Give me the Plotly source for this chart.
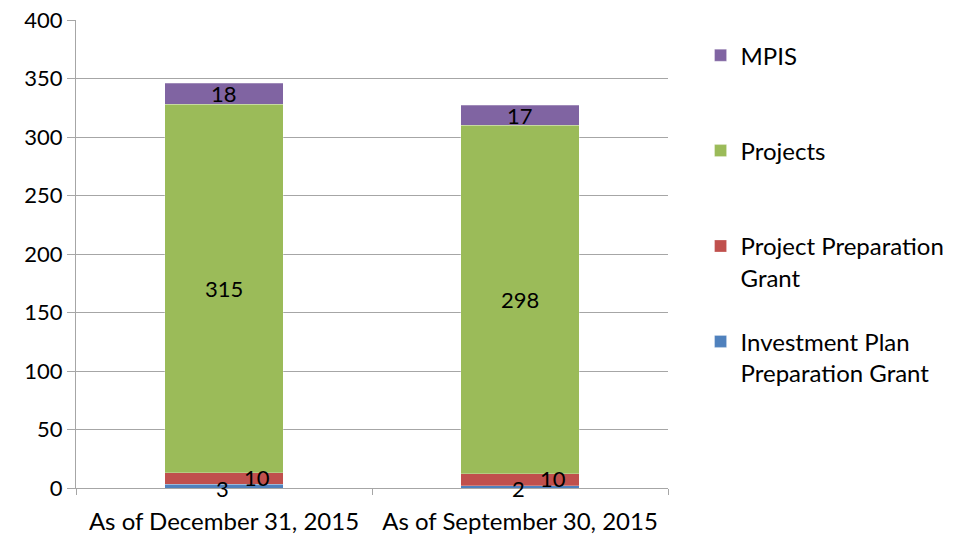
import plotly.graph_objects as go

categories = ["As of December 31, 2015", "As of September 30, 2015"]
ippg = [3, 2]
ppg = [10, 10]
projects = [315, 298]
mpis = [18, 17]

series = [
    ("Investment Plan<br>Preparation Grant", ippg, "#4F81BD"),
    ("Project Preparation<br>Grant", ppg, "#C0504D"),
    ("Projects<br>&nbsp;", projects, "#9BBB59"),
    ("MPIS<br>&nbsp;", mpis, "#8064A2"),
]

FONT = "Lato"
FS = 22
FS_BIG = 24
fig = go.Figure()
n = len(series)
for i, (name, vals, col) in enumerate(series):
    fig.add_trace(go.Bar(
        x=categories, y=vals, name=name, legendgroup=f"g{i}", legendrank=n - i,
        marker=dict(color=col, line=dict(color="rgba(255,255,255,0.5)", width=0.5)),
        width=0.4, hoverinfo="skip",
    ))

# data labels
for ci, cat in enumerate(categories):
    base = 0
    for si, (name, vals, col) in enumerate(series):
        v = vals[ci]
        mid = base + v / 2
        xshift, yshift = 0, 0
        if si == 0:
            xshift, yshift = -2, -2
        elif si == 1:
            xshift, yshift = 33, 1
        fig.add_annotation(x=cat, y=mid, text=str(v), showarrow=False,
                           xshift=xshift, yshift=yshift,
                           font=dict(family=FONT, size=FS, color="#000000"))
        base += v

fig.update_layout(
    width=956, height=538,
    barmode="stack",
    paper_bgcolor="white", plot_bgcolor="white",
    margin=dict(l=76, r=288, t=20, b=50, autoexpand=False),
    font=dict(family=FONT, size=FS, color="#000000"),
    showlegend=True,
    legend=dict(
        traceorder="grouped", tracegroupgap=30, valign="top",
        x=1.055, xanchor="left", y=0.972, yanchor="top",
        font=dict(family=FONT, size=FS_BIG, color="#000000"),
        itemwidth=30, bgcolor="rgba(0,0,0,0)",
    ),
    xaxis=dict(
        type="category", showgrid=False, showline=True, linecolor="#A6A6A6", linewidth=1,
        ticks="outside", tickson="boundaries", ticklen=6, tickcolor="#A6A6A6",
        tickfont=dict(family=FONT, size=FS_BIG), fixedrange=True, automargin=False,
        ticklabelstandoff=12,
    ),
    yaxis=dict(
        range=[0, 400], dtick=50, showgrid=True, gridcolor="#A6A6A6", gridwidth=1,
        showline=True, linecolor="#A6A6A6", linewidth=1, ticks="outside", ticklen=8,
        tickcolor="#A6A6A6", tickfont=dict(family=FONT, size=FS), zeroline=False,
        fixedrange=True, automargin=False,
    ),
)

fig.write_html("out.html", config={"displayModeBar": False},
               post_script="document.body.style.margin='0';")
